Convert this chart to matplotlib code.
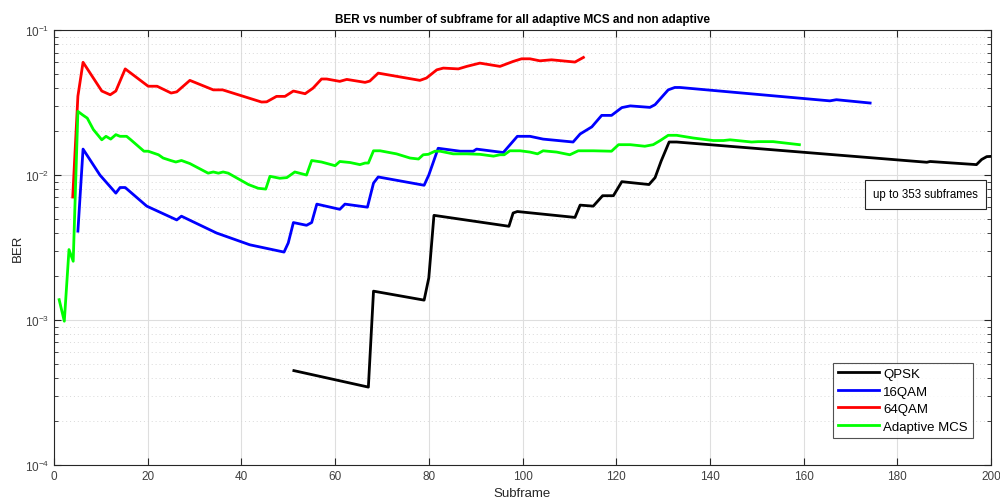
#!/usr/bin/env python

# BER vs subframe for the fixed and adaptive MCS schemes

import matplotlib
matplotlib.use('Agg')
import matplotlib.pyplot as plt
from matplotlib.ticker import LogLocator, NullFormatter

# Values
qpsk_x = [51.2, 67.1, 68.2, 79, 80, 81.1, 97.1, 98, 98.9, 111.2, 112.3, 115.1,
          117.1, 119.4, 121.2, 127.0, 128.3, 129.6, 131.3, 132.9, 186.3, 187,
          196.9, 198, 199.1, 201]
qpsk_y = [0.000447, 0.000344, 0.00158, 0.00137, 0.00195, 0.00527, 0.00443,
          0.00547, 0.0056, 0.0051, 0.0062, 0.0061, 0.0072, 0.0072, 0.0090,
          0.0086, 0.0096, 0.0125, 0.0169, 0.0169, 0.01225, 0.0124, 0.0118,
          0.0128, 0.0134, 0.0135]

qam16_x = [5.1, 6.2, 9.8, 13.2, 14.1, 15.2, 19.8, 26.2, 27.2, 34.7, 41.8, 49.1,
           50, 51.1, 53.9, 55, 56.1, 61, 62.1, 66.9, 68.2, 69.2, 79, 80, 82,
           86.7, 89.5, 90.2, 95.9, 98.9, 101.6, 104.4, 110.8, 112.3, 114.8,
           116.9, 119, 121.2, 123, 127.2, 128.3, 131.1, 132.5, 133.6, 165.6,
           167, 174.2]
qam16_y = [0.0041, 0.0151, 0.0100, 0.0075, 0.0082, 0.0082, 0.0061, 0.0049,
           0.0052, 0.00398, 0.0033, 0.00294, 0.0034, 0.0047, 0.0045, 0.0047,
           0.0063, 0.0058, 0.0063, 0.0060, 0.0088, 0.0097, 0.0085, 0.0100,
           0.0153, 0.0146, 0.0146, 0.0151, 0.0143, 0.0185, 0.0185, 0.0177,
           0.0169, 0.0192, 0.0215, 0.0258, 0.0258, 0.0292, 0.0300, 0.0293,
           0.0306, 0.0387, 0.0402, 0.0402, 0.0325, 0.0331, 0.0314]

qam64_x = [4.0, 5.1, 6.2, 10.2, 12, 13.2, 15.2, 20.1, 22, 25, 26.2, 29, 34, 36,
           44.3, 45.4, 47.5, 49.3, 51.1, 53.6, 55.3, 57.1, 58.2, 61, 62.5,
           66.4, 67.4, 69.2, 78.1, 79.5, 81.7, 83.1, 86.3, 88.1, 90.9, 95.2,
           98, 99.8, 101.6, 103.7, 106.2, 111.2, 113]
qam64_y = [0.00705, 0.035, 0.060, 0.038, 0.0358, 0.038, 0.054, 0.041, 0.041,
           0.0368, 0.0375, 0.045, 0.0387, 0.0387, 0.0319, 0.032, 0.0349,
           0.0349, 0.038, 0.0364, 0.0398, 0.046, 0.046, 0.0443, 0.0457,
           0.0436, 0.0445, 0.0505, 0.0450, 0.0467, 0.0532, 0.0547, 0.054,
           0.0562, 0.0592, 0.0562, 0.0608, 0.0634, 0.0634, 0.0614, 0.0624,
           0.0602, 0.0648]

adapt_x = [1.1, 2.2, 3.2, 4.1, 5.1, 6.1, 7.1, 8.4, 10.2, 11.1, 12.1, 13.2,
           14.1, 15.5, 16.4, 19.2, 20.1, 22.3, 23.3, 24.9, 26, 27.2, 29, 32.9,
           34, 35.1, 36.1, 37.2, 41.5, 43.6, 45.2, 46.1, 48.2, 49.7, 51.4,
           53.9, 55, 57.1, 60, 61, 63.2, 65.3, 66.4, 67.1, 68.2, 69.6, 73.1,
           76, 77.8, 78.8, 79.9, 81.3, 82.4, 85.2, 88.1, 90.9, 93.8, 95.2,
           96.1, 97.3, 99.5, 101.6, 103.2, 104.4, 107.3, 110.1, 111.9, 115.1,
           119, 120.5, 123, 126.1, 127.9, 129.4, 131.1, 132.9, 136.5, 140.7,
           142.9, 144.3, 148.9, 150.3, 153.5, 159.1]
adapt_y = [0.00138, 0.00098, 0.00306, 0.00254, 0.0275, 0.026, 0.0247, 0.0206,
           0.0175, 0.0185, 0.0177, 0.019, 0.0185, 0.0185, 0.0175, 0.0146,
           0.0146, 0.0138, 0.0131, 0.0126, 0.0123, 0.0126, 0.0120, 0.0103,
           0.0105, 0.0103, 0.0105, 0.0103, 0.0086, 0.0081, 0.0080, 0.0098,
           0.0095, 0.0096, 0.0105, 0.0100, 0.0126, 0.0123, 0.0116, 0.0124,
           0.0122, 0.0118, 0.0121, 0.0121, 0.0147, 0.0147, 0.0140, 0.0131,
           0.0129, 0.0138, 0.0139, 0.0146, 0.0146, 0.0140, 0.0140, 0.0139,
           0.0135, 0.0138, 0.0138, 0.0147, 0.0147, 0.0144, 0.0140, 0.0147,
           0.0144, 0.0138, 0.0147, 0.0147, 0.0146, 0.0162, 0.0162, 0.0158,
           0.0162, 0.0173, 0.0188, 0.0188, 0.0180, 0.0173, 0.0173, 0.0175,
           0.0169, 0.0170, 0.0170, 0.0162]

series_names = ['QPSK', '16QAM', '64QAM', 'Adaptive MCS']
series_colours = ['black', (0, 0, 1), (1, 0, 0), (0, 1, 0)]

plt.rcParams['font.family'] = ['Liberation Sans', 'DejaVu Sans']
plt.rcParams['mathtext.fontset'] = 'custom'
plt.rcParams['mathtext.rm'] = 'Liberation Sans'

fig = plt.figure(figsize=(10, 5.02), dpi=100, facecolor='white')
ax = fig.add_axes([0.054, 0.072, 0.937, 0.866])

frame_grey = (0.15, 0.15, 0.15)

for xs, ys, name, col in zip([qpsk_x, qam16_x, qam64_x, adapt_x],
                             [qpsk_y, qam16_y, qam64_y, adapt_y],
                             series_names, series_colours):
    ax.plot(xs, ys, color=col, linewidth=2, label=name)

ax.set_yscale('log')
ax.set_xlim(0, 200)
ax.set_ylim(1e-4, 1e-1)
ax.set_xticks(range(0, 201, 20))
ax.yaxis.set_major_locator(LogLocator(base=10, numticks=10))
ax.yaxis.set_minor_locator(LogLocator(base=10, subs=range(2, 10), numticks=20))
ax.yaxis.set_minor_formatter(NullFormatter())

# MATLAB-like grid: solid major, dotted minor on y
ax.grid(True, which='major', color=(0.87, 0.87, 0.87), linewidth=0.8)
ax.grid(True, which='minor', axis='y', color=(0.85, 0.85, 0.85),
        linestyle=(0, (1, 3)), linewidth=0.7)
ax.set_axisbelow(True)

ax.tick_params(which='both', direction='in', top=True, right=True,
               colors=frame_grey, labelcolor=(0.25, 0.25, 0.25), labelsize=8.5)
ax.tick_params(which='major', length=5)
ax.tick_params(which='minor', length=3)
for s in ax.spines.values():
    s.set_color(frame_grey)
    s.set_linewidth(0.8)

ax.set_title('BER vs number of subframe for all adaptive MCS and non adaptive',
             fontsize=8.5, fontweight='bold', color='black', pad=6)
ax.set_xlabel('Subframe', fontsize=9.5, color=(0.15, 0.15, 0.15), labelpad=4)
ax.set_ylabel('BER', fontsize=9.5, color=(0.15, 0.15, 0.15))
ax.yaxis.set_label_coords(-0.032, 0.5)

leg = ax.legend(loc='lower right', bbox_to_anchor=(0.981, 0.062),
                fontsize=9.5, frameon=True, fancybox=False, handlelength=3.1,
                borderpad=0.4, labelspacing=0.4, handletextpad=0.3,
                borderaxespad=0.0)
leg.get_frame().set_edgecolor(frame_grey)
leg.get_frame().set_linewidth(0.8)

ax.text(0.9865, 0.622, 'up to 353 subframes', transform=ax.transAxes,
        ha='right', va='center', fontsize=8.3, color='black',
        bbox=dict(boxstyle='square,pad=0.7', facecolor='white',
                  edgecolor=frame_grey, linewidth=0.8))

fig.savefig('out.png', dpi=100)
